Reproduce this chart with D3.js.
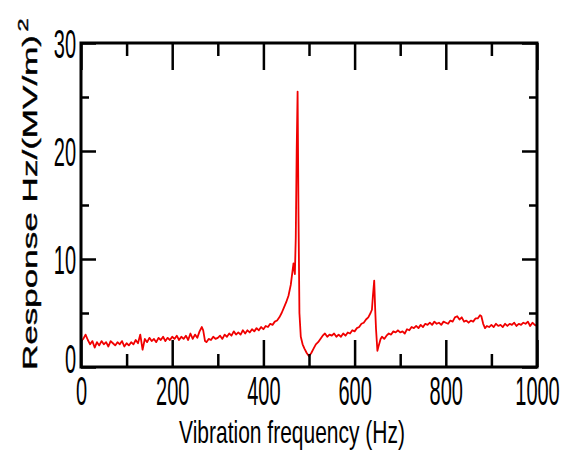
<!DOCTYPE html>
<html>
<head>
<meta charset="utf-8">
<script src="https://cdnjs.cloudflare.com/ajax/libs/d3/7.8.5/d3.min.js"></script>
<style>
  body { margin: 0; background: #fff; }
  svg { display: block; }
  text { font-family: "Liberation Sans", Arial, sans-serif; fill: #000; }
</style>
</head>
<body>
<div class="container"></div>
<script>
// frequency (Hz) and response values
const freqHz = [
  0, 5, 10, 15, 20, 25, 30, 35, 40, 45, 50, 55, 60, 65, 70, 75, 80, 85, 90, 95,
  100, 105, 110, 115, 120, 125, 130, 135, 140, 145, 150, 155, 160, 165, 170, 175, 180, 185, 190, 195,
  200, 205, 210, 215, 220, 225, 230, 235, 240, 245, 250, 255, 260, 265, 268, 272, 275, 280, 285, 290, 295,
  300, 305, 310, 315, 320, 325, 330, 335, 340, 345, 350, 355, 360, 365, 370, 375, 380, 385, 390, 395,
  400, 405, 410, 415, 420, 425, 430, 435, 440, 445, 450, 455, 460, 463, 466, 469, 471, 473, 475, 477, 479,
  482, 486, 490, 495, 500, 505, 510, 515, 520, 525, 530, 535, 540, 545, 550, 555, 560, 565, 570, 575,
  580, 585, 590, 595, 600, 605, 610, 615, 620, 625, 630, 635, 638, 640, 643, 645, 647, 650, 653, 657,
  660, 665, 670, 675, 680, 685, 690, 695, 700, 705, 710, 715, 720, 725, 730, 735, 740, 745, 750, 755,
  760, 765, 770, 775, 780, 785, 790, 795, 800, 805, 810, 815, 820, 825, 830, 835, 840, 845, 850, 855,
  860, 865, 870, 875, 878, 882, 886, 890, 895, 900, 905, 910, 915, 920, 925, 930, 935, 940, 945, 950,
  955, 960, 965, 970, 975, 980, 985, 990, 995, 1000
];
const response = [
  2.4, 2.6, 3.0, 2.5, 2.1, 2.4, 1.8, 2.3, 2.0, 2.4, 2.1, 2.3, 1.9, 2.4, 2.2, 2.0, 2.3, 2.1, 2.4, 1.9,
  2.2, 2.0, 2.3, 2.1, 2.5, 2.2, 3.0, 1.6, 2.6, 2.3, 2.7, 2.4, 2.6, 2.3, 2.7, 2.5, 2.8, 2.4, 2.7, 2.5,
  2.8, 2.6, 2.9, 2.5, 2.8, 2.6, 2.9, 2.5, 3.1, 2.6, 3.0, 2.7, 3.3, 3.7, 3.4, 2.4, 2.3, 2.6, 2.5, 2.8, 2.6,
  2.7, 2.9, 2.6, 3.0, 2.8, 3.1, 2.9, 3.3, 3.0, 3.2, 3.0, 3.4, 3.1, 3.4, 3.2, 3.5, 3.3, 3.6, 3.4, 3.7,
  3.5, 3.8, 3.7, 4.0, 3.9, 4.2, 4.3, 4.6, 5.0, 5.5, 6.0, 6.6, 7.6, 8.6, 9.6, 8.6, 12.0, 20.0, 25.5, 14.0, 5.0,
  2.8, 2.1, 1.7, 1.3, 1.0, 1.3, 1.7, 2.1, 2.3, 2.6, 2.9, 3.1, 2.8, 3.0, 2.9, 3.1, 2.8, 3.0, 2.8, 3.1,
  2.9, 3.2, 3.1, 3.4, 3.3, 3.6, 3.7, 4.0, 4.1, 4.4, 4.6, 5.0, 5.3, 6.5, 8.0, 5.5, 3.5, 1.5, 2.0, 2.6,
  2.8, 2.6, 2.9, 3.1, 3.0, 3.3, 3.2, 3.4, 3.2, 3.3, 3.1, 3.5, 3.4, 3.7, 3.6, 3.8, 3.6, 3.9, 3.7, 4.0,
  3.9, 4.1, 3.9, 4.2, 4.0, 4.1, 3.9, 4.2, 4.1, 4.0, 4.3, 4.2, 4.6, 4.7, 4.4, 4.6, 4.2, 4.3, 4.1, 4.3,
  4.2, 4.5, 4.5, 4.8, 4.7, 4.0, 3.6, 3.8, 3.7, 3.9, 3.7, 4.0, 3.8, 3.9, 3.7, 4.0, 3.8, 4.0, 3.9, 4.1,
  3.8, 4.0, 3.9, 4.1, 4.0, 4.2, 3.8, 4.1, 3.9, 3.8
];
const xMajorTicks = [0, 200, 400, 600, 800, 1000];
const xMinorTicks = [100, 300, 500, 700, 900];
const yMajorTicks = [0, 10, 20, 30];
const yMinorTicks = [5, 15, 25];
const xTitle = 'Vibration frequency (Hz)';
const yTitle = 'Response Hz/(MV/m)';
const yTitleSup = '2';

const width = 563;
const height = 453;
const margin = { top: 43, right: 26, bottom: 86, left: 81 };
const innerW = width - margin.left - margin.right;
const innerH = height - margin.top - margin.bottom;

const svg = d3.select('.container')
  .append('svg')
  .attr('width', width)
  .attr('height', height);

const g = svg.append('g')
  .attr('transform', `translate(${margin.left},${margin.top})`);

const x = d3.scaleLinear().domain([0, 1000]).range([0, innerW]);
const y = d3.scaleLinear().domain([0, 30]).range([innerH, 0]);

const points = freqHz.map((f, i) => [f, response[i]]);

// Response curve
g.append('path')
  .datum(points)
  .attr('fill', 'none')
  .attr('stroke', '#f00000')
  .attr('stroke-width', 1.8)
  .attr('stroke-linejoin', 'round')
  .attr('d', d3.line().x(d => x(d[0])).y(d => y(d[1])));

// Ticks pointing inward on all four sides
function addAxis(axis, transform) {
  const a = g.append('g').attr('transform', transform).call(axis);
  a.select('.domain').remove();
  a.selectAll('line').attr('stroke', '#000').attr('stroke-width', 2.5);
  return a;
}

const bottomAxis = addAxis(
  d3.axisBottom(x).tickValues(xMajorTicks).tickSize(-27).tickPadding(0).tickFormat(d3.format('d')),
  `translate(0,${innerH})`
);
bottomAxis.selectAll('text')
  .attr('font-size', 20)
  .attr('y', 19)
  .attr('dy', 0)
  .attr('transform', 'scale(1,2)');

addAxis(d3.axisBottom(x).tickValues(xMinorTicks).tickSize(-13).tickFormat(''), `translate(0,${innerH})`);
addAxis(d3.axisTop(x).tickValues(xMajorTicks).tickSize(-27).tickFormat(''), 'translate(0,0)');
addAxis(d3.axisTop(x).tickValues(xMinorTicks).tickSize(-13).tickFormat(''), 'translate(0,0)');

const leftAxis = addAxis(
  d3.axisLeft(y).tickValues(yMajorTicks).tickSize(-15).tickPadding(5),
  'translate(0,0)'
);
leftAxis.selectAll('text')
  .attr('font-size', 20)
  .attr('dy', '0.36em')
  .attr('transform', d => d === 0 ? 'translate(0,-9) scale(1,2)' : 'scale(1,2)');

addAxis(d3.axisLeft(y).tickValues(yMinorTicks).tickSize(-8).tickFormat(''), 'translate(0,0)');
addAxis(d3.axisRight(y).tickValues(yMajorTicks).tickSize(-15).tickFormat(''), `translate(${innerW},0)`);
addAxis(d3.axisRight(y).tickValues(yMinorTicks).tickSize(-8).tickFormat(''), `translate(${innerW},0)`);

// Frame
g.append('rect')
  .attr('x', 0)
  .attr('y', 0)
  .attr('width', innerW)
  .attr('height', innerH)
  .attr('fill', 'none')
  .attr('stroke', '#000')
  .attr('stroke-width', 3);

// Axis titles
svg.append('text')
  .attr('transform', 'translate(292,443) scale(1,1.5)')
  .attr('text-anchor', 'middle')
  .attr('font-size', 21)
  .text(xTitle);

const yLabel = svg.append('text')
  .attr('transform', 'translate(37,370) rotate(-90) scale(1.67,1)')
  .attr('text-anchor', 'start')
  .attr('font-size', 21)
  .attr('stroke', '#000')
  .attr('stroke-width', 0.4);
yLabel.append('tspan').text(yTitle);
yLabel.append('tspan')
  .attr('font-size', 14)
  .attr('dx', 2)
  .attr('dy', -9)
  .text(yTitleSup);
</script>
</body>
</html>
